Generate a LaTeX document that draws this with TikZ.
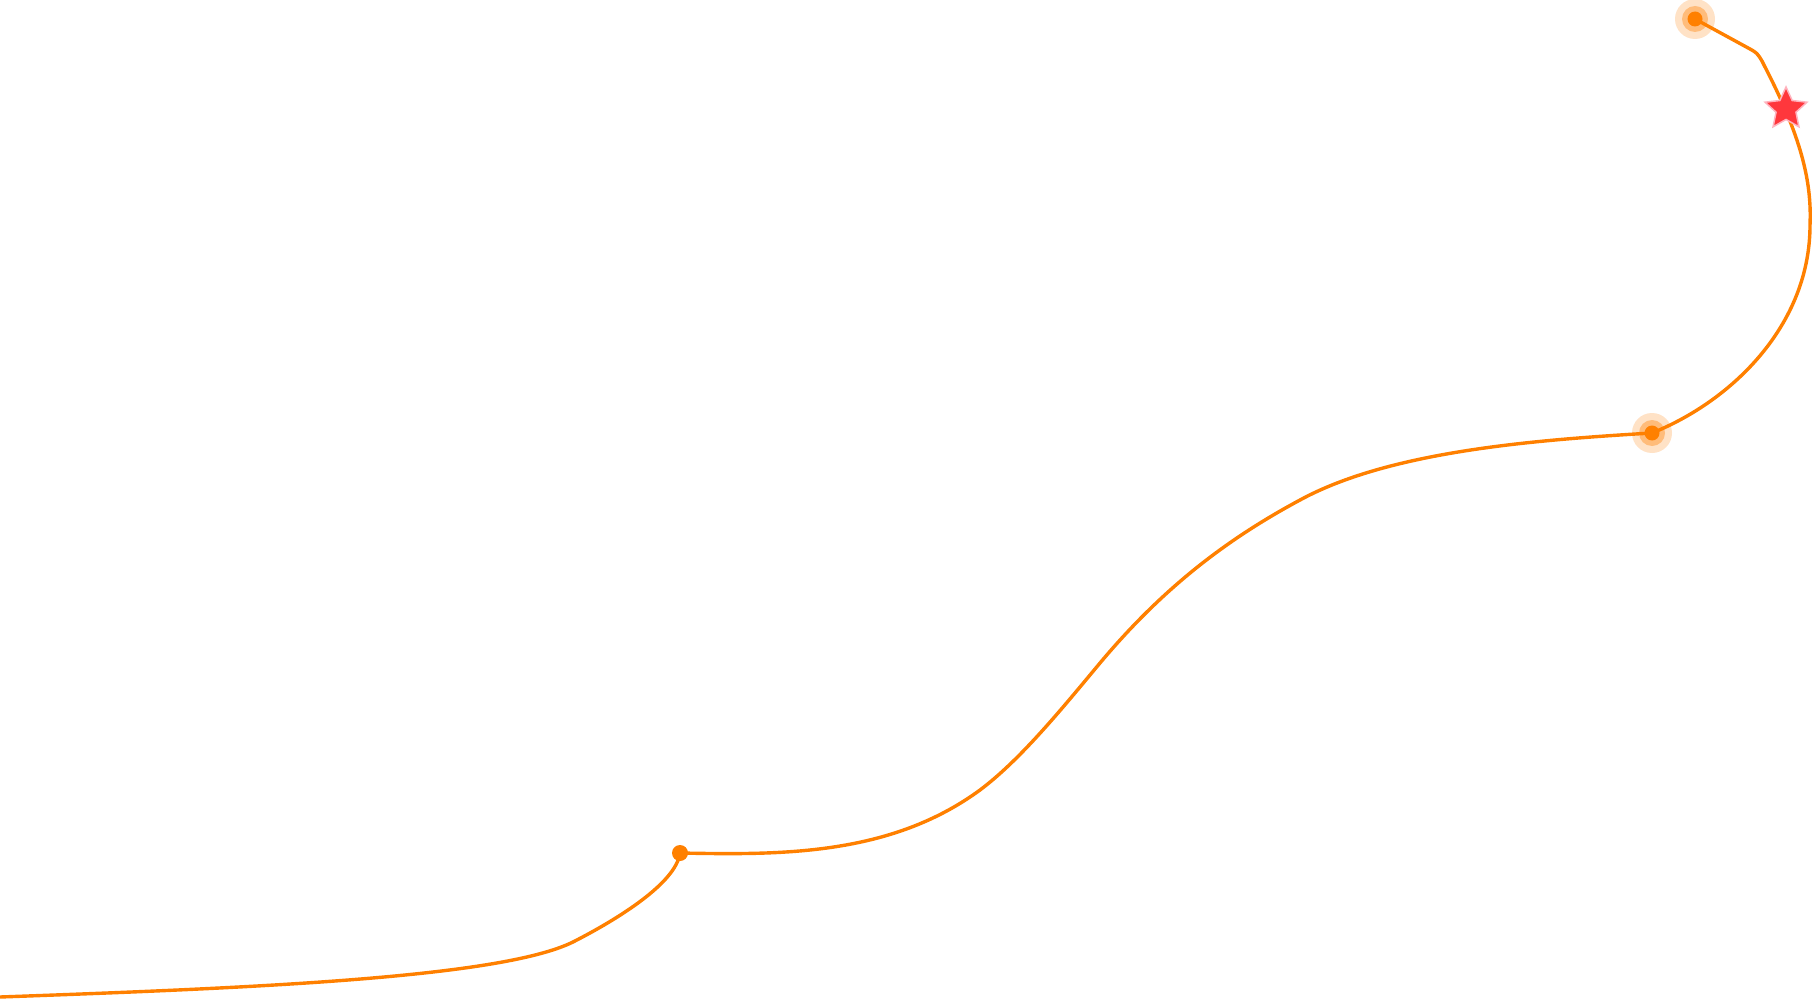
\documentclass[tikz,border=0pt]{standalone}
\usetikzlibrary{shapes.geometric}
\definecolor{trailorange}{HTML}{FF8000}
\definecolor{haloA}{HTML}{FFE2C6}
\definecolor{haloB}{HTML}{FFBC7A}
\definecolor{starred}{HTML}{FF373C}
\definecolor{starrim}{HTML}{FFB3BE}
\begin{document}
\begin{tikzpicture}[x=1pt,y=-1pt,
  trail/.style={draw=trailorange, line width=3.4pt},
  dotnode/.style={circle, fill=trailorange, inner sep=0pt, minimum size=16pt},
  haloouter/.style={circle, fill=haloA, inner sep=0pt, minimum size=40pt},
  halomid/.style={circle, fill=haloB, inner sep=0pt, minimum size=26pt},
  starnode/.style={star, star points=5, star point ratio=2.1, fill=starred, draw=starrim, line width=1.5pt, inner sep=0pt, minimum size=44pt}]
\fill[white] (0,0) rectangle (1812,1000);
\useasboundingbox (0,0) rectangle (1812,1000);
% junction coordinates
\coordinate (start) at (0,997);
\coordinate (j1) at (573,942);
\coordinate (p1) at (680,853);
\coordinate (j2) at (980,790);
\coordinate (j3) at (1100,663);
\coordinate (j4) at (1300,500);
\coordinate (p2) at (1652,433);
\coordinate (j5) at (1810,225);
\coordinate (j6) at (1765,67);
\coordinate (bend) at (1757,53);
\coordinate (p3) at (1695,19);
% halos
\node[haloouter] (h2o) at (p2) {};
\node[halomid] (h2m) at (p2) {};
\node[haloouter] (h3o) at (p3) {};
\node[halomid] (h3m) at (p3) {};
% trail
\draw[trail] (start) .. controls (250,988) and (500,978) .. (j1)
  .. controls (618,919) and (676,883) .. (p1);
\draw[trail] (p1) .. controls (780,855) and (890,856) .. (j2)
  .. controls (1020,760) and (1060,711) .. (j3)
  .. controls (1167,583) and (1233,536) .. (j4)
  .. controls (1390,451) and (1535,440) .. (p2);
\draw[trail] (p2) .. controls (1732,401) and (1810,325) .. (j5)
  .. controls (1812,180) and (1800,135) .. (j6)
  -- (1762,61) .. controls (bend) .. (1750,49) -- (p3);
% dots
\node[dotnode] (dot1) at (p1) {};
\node[dotnode, minimum size=15pt] (dot2) at (p2) {};
\node[dotnode, minimum size=15pt] (dot3) at (p3) {};
% star
\node[starnode] (star) at (1786,109) {};
\end{tikzpicture}
\end{document}
